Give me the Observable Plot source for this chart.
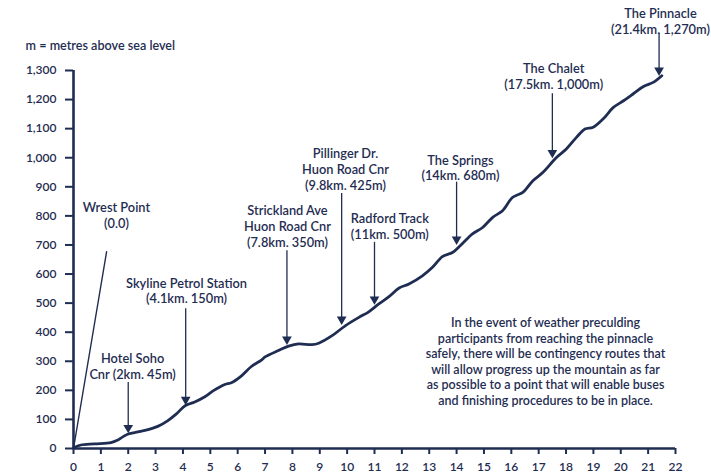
<!DOCTYPE html>
<html>
<head>
<meta charset="utf-8">
<script src="https://cdn.jsdelivr.net/npm/d3@7"></script>
<script src="https://cdn.jsdelivr.net/npm/@observablehq/plot@0.6"></script>
<style>
  html, body { margin: 0; padding: 0; background: #fff; }
  #chart svg { display: block; }
</style>
</head>
<body>
<div id="chart"></div>
<script>
// ---- data ----
const profileKm = [0, 0.27, 0.76, 1.37, 1.6, 1.8, 2.0, 2.35, 2.65, 3.08, 3.45, 3.75, 4.09, 4.43, 4.8, 5.1, 5.53, 5.77, 6.14, 6.5, 6.88, 7.0, 7.49, 7.86, 8.22, 8.71, 8.96, 9.45, 9.93, 10.43, 10.79, 11.16, 11.53, 11.9, 12.26, 12.75, 13.12, 13.48, 13.85, 14.16, 14.58, 14.95, 15.32, 15.68, 16.05, 16.42, 16.79, 17.16, 17.64, 18.01, 18.38, 18.69, 18.99, 19.36, 19.73, 20.1, 20.46, 20.83, 21.2, 21.5];
const profileM  = [2, 12, 16, 20, 28, 40, 50, 57, 63, 76, 96, 118, 148, 160, 178, 198, 220, 226, 250, 282, 305, 315, 337, 352, 360, 357, 362, 388, 422, 451, 470, 497, 522, 552, 566, 594, 623, 660, 674, 700, 738, 760, 795, 818, 864, 881, 921, 950, 1000, 1030, 1070, 1099, 1105, 1134, 1173, 1196, 1220, 1245, 1260, 1282];

const stopKm = [2, 4.1, 7.8, 9.8, 11, 14, 17.5, 21.4];
const stopLabels = [
  "Hotel Soho\nCnr (2km. 45m)",
  "Skyline Petrol Station\n(4.1km. 150m)",
  "Strickland Ave\nHuon Road Cnr\n(7.8km. 350m)",
  "Pillinger Dr.\nHuon Road Cnr\n(9.8km. 425m)",
  "Radford Track\n(11km. 500m)",
  "The Springs\n(14km. 680m)",
  "The Chalet\n(17.5km. 1,000m)",
  "The Pinnacle\n(21.4km. 1,270m)"
];
// label placement (km, first-line elevation), arrow start/end elevation
const labelKm = [2.16, 4.13, 7.82, 9.94, 11.56, 14.14, 17.55, 21.45];
const labelM = [307, 567, 818, 1011, 790, 990, 1306, 1495];
const arrowTopM = [227, 481, 680, 877, 709, 916, 1220, 1427];
const arrowTipM = [61, 158, 365, 434, 503, 709, 1007, 1290];

const startLabel = "Wrest Point\n(0.0)";
const startLabelKm = 1.57, startLabelM = 825;
const startLeaderKm = [0, 1.21], startLeaderM = [0, 677];

const xTicks = d3.range(0, 23);
const yTicks = d3.range(0, 1301, 100);
const yTitle = "m = metres above sea level";
const note = "In the event of weather preculding\nparticipants from reaching the pinnacle\nsafely, there will be contingency routes that\nwill allow progress up the mountain as far\nas possible to a point that will enable buses\nand finishing procedures to be in place.";

// ---- build ----
const navy = "#1f2d52";
const profile = profileKm.map((k, i) => ({km: k, m: profileM[i]}));
const stops = stopKm.map((k, i) => ({km: k, label: stopLabels[i], lx: labelKm[i], ly: labelM[i], top: arrowTopM[i], tip: arrowTipM[i]}));
const leader = startLeaderKm.map((k, i) => ({km: k, m: startLeaderM[i]}));

const chart = Plot.plot({
  width: 711,
  height: 476,
  marginLeft: 73,
  marginRight: 36,
  marginTop: 70,
  marginBottom: 28,
  x: {domain: [0, 22]},
  y: {domain: [0, 1300]},
  style: {fontFamily: "Lato, 'Open Sans', sans-serif", fontSize: "12px", color: navy, background: "#fff", fontWeight: 600},
  marks: [
    Plot.axisY({ticks: yTicks, tickFormat: d3.format(","), tickSize: 8, tickPadding: 9, strokeWidth: 2, label: null, fontSize: 12}),
    Plot.axisX({ticks: xTicks, tickFormat: d => d, tickSize: 6, tickPadding: 8, strokeWidth: 2, label: null, fontSize: 12}),
    Plot.ruleX([0], {y1: 0, y2: 1300, stroke: navy, strokeWidth: 2.6}),
    Plot.ruleY([0], {x1: 0, x2: 22, stroke: navy, strokeWidth: 2.6}),
    Plot.line(leader, {x: "km", y: "m", stroke: navy, strokeWidth: 1.4}),
    Plot.line(profile, {x: "km", y: "m", stroke: navy, strokeWidth: 2.8, curve: "catmull-rom", strokeLinejoin: "round", strokeLinecap: "round"}),
    Plot.ruleX(stops, {x: "km", y1: "top", y2: "tip", stroke: navy, strokeWidth: 1.3}),
    Plot.dot(stops, {x: "km", y: "tip", symbol: "triangle", rotate: 180, r: 3.6, fill: navy, stroke: "none", dy: -3}),
    Plot.text(stops, {x: "lx", y: "ly", text: "label", lineAnchor: "top", dy: -7.5, lineHeight: 1.25, fontSize: 12.8, fill: navy, textAnchor: "middle"}),
    Plot.text([startLabel], {x: startLabelKm, y: startLabelM, text: d => d, lineAnchor: "top", dy: -7.5, lineHeight: 1.25, fontSize: 12.8, fill: navy}),
    Plot.text([yTitle], {x: -1.75, y: 1384, text: d => d, textAnchor: "start", fontSize: 12.6, fill: navy}),
    Plot.text([note], {x: 17.25, y: 300, text: d => d, lineAnchor: "middle", lineHeight: 1.24, fontSize: 12.5, fill: navy, textAnchor: "middle"})
  ]
});
document.getElementById("chart").appendChild(chart);
</script>
</body>
</html>
